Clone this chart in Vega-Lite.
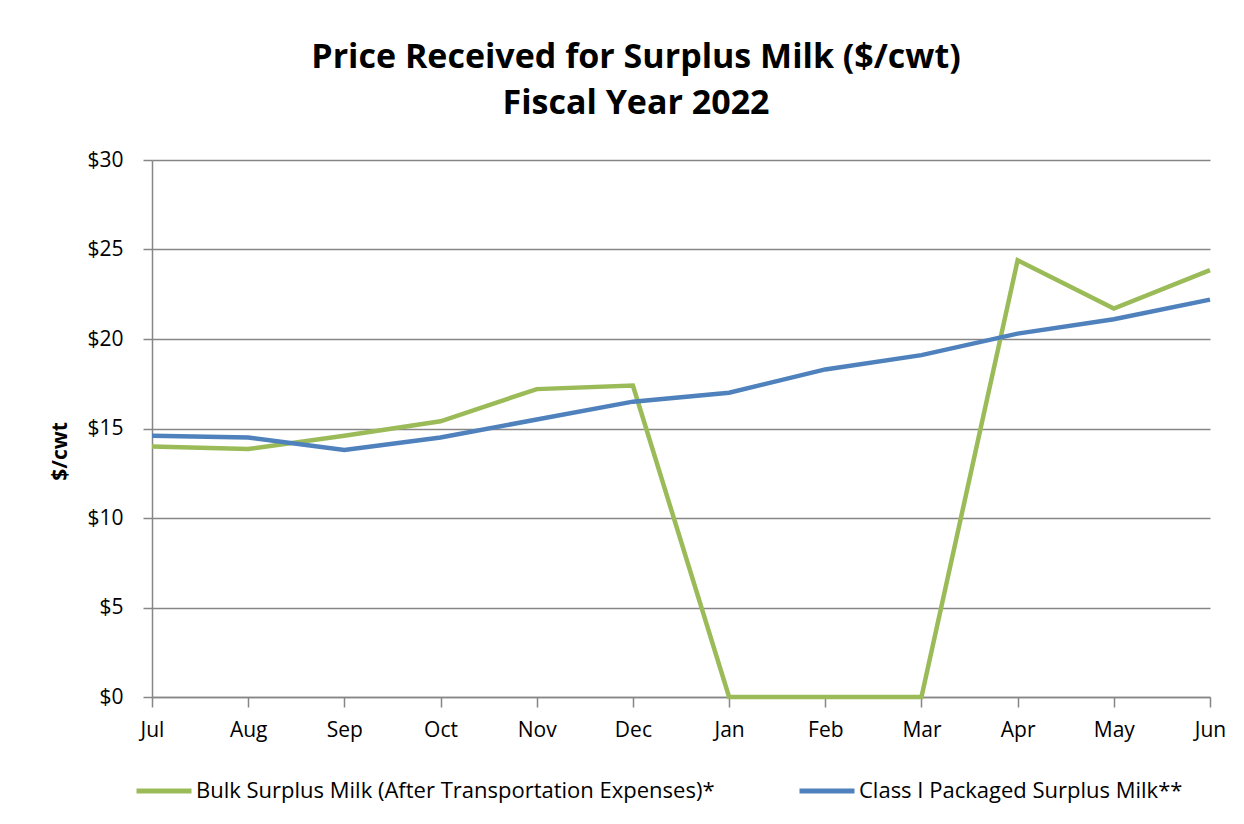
{
  "$schema": "https://vega.github.io/schema/vega-lite/v6.json",
  "autosize": {"type": "none"},
  "width": 1058,
  "height": 537,
  "padding": {"left": 152, "top": 160, "right": 34, "bottom": 127},
  "background": "white",
  "config": {
    "font": "Open Sans",
    "view": {"stroke": null}
  },
  "title": {
    "text": ["Price Received for Surplus Milk ($/cwt)", "Fiscal Year 2022"],
    "font": "Open Sans",
    "fontSize": 34,
    "fontWeight": "bold",
    "color": "#000000",
    "lineHeight": 46,
    "anchor": "middle",
    "frame": "group",
    "dx": -45,
    "offset": 28
  },
  "data": {
    "values": [
      {"month": "Jul", "series": "Bulk Surplus Milk (After Transportation Expenses)*", "price": 14.0},
      {"month": "Aug", "series": "Bulk Surplus Milk (After Transportation Expenses)*", "price": 13.85},
      {"month": "Sep", "series": "Bulk Surplus Milk (After Transportation Expenses)*", "price": 14.6},
      {"month": "Oct", "series": "Bulk Surplus Milk (After Transportation Expenses)*", "price": 15.4},
      {"month": "Nov", "series": "Bulk Surplus Milk (After Transportation Expenses)*", "price": 17.2},
      {"month": "Dec", "series": "Bulk Surplus Milk (After Transportation Expenses)*", "price": 17.4},
      {"month": "Jan", "series": "Bulk Surplus Milk (After Transportation Expenses)*", "price": 0},
      {"month": "Feb", "series": "Bulk Surplus Milk (After Transportation Expenses)*", "price": 0},
      {"month": "Mar", "series": "Bulk Surplus Milk (After Transportation Expenses)*", "price": 0},
      {"month": "Apr", "series": "Bulk Surplus Milk (After Transportation Expenses)*", "price": 24.4},
      {"month": "May", "series": "Bulk Surplus Milk (After Transportation Expenses)*", "price": 21.7},
      {"month": "Jun", "series": "Bulk Surplus Milk (After Transportation Expenses)*", "price": 23.85},
      {"month": "Jul", "series": "Class I Packaged Surplus Milk**", "price": 14.6},
      {"month": "Aug", "series": "Class I Packaged Surplus Milk**", "price": 14.5},
      {"month": "Sep", "series": "Class I Packaged Surplus Milk**", "price": 13.8},
      {"month": "Oct", "series": "Class I Packaged Surplus Milk**", "price": 14.5},
      {"month": "Nov", "series": "Class I Packaged Surplus Milk**", "price": 15.5},
      {"month": "Dec", "series": "Class I Packaged Surplus Milk**", "price": 16.5},
      {"month": "Jan", "series": "Class I Packaged Surplus Milk**", "price": 17.0},
      {"month": "Feb", "series": "Class I Packaged Surplus Milk**", "price": 18.3},
      {"month": "Mar", "series": "Class I Packaged Surplus Milk**", "price": 19.1},
      {"month": "Apr", "series": "Class I Packaged Surplus Milk**", "price": 20.3},
      {"month": "May", "series": "Class I Packaged Surplus Milk**", "price": 21.1},
      {"month": "Jun", "series": "Class I Packaged Surplus Milk**", "price": 22.2}
    ]
  },
  "mark": {"type": "line", "strokeWidth": 4.5, "strokeJoin": "miter", "strokeCap": "butt"},
  "encoding": {
    "x": {
      "field": "month",
      "type": "ordinal",
      "sort": ["Jul", "Aug", "Sep", "Oct", "Nov", "Dec", "Jan", "Feb", "Mar", "Apr", "May", "Jun"],
      "scale": {"type": "point", "padding": 0},
      "axis": {
        "title": null,
        "labelAngle": 0,
        "labelFont": "Open Sans",
        "labelFontSize": 21,
        "labelColor": "#000000",
        "labelPadding": 12,
        "tickSize": 10,
        "tickColor": "#868686",
        "tickWidth": 1.5,
        "domainColor": "#868686",
        "domainWidth": 1.5,
        "grid": false
      }
    },
    "y": {
      "field": "price",
      "type": "quantitative",
      "scale": {"domain": [0, 30], "nice": false, "zero": true},
      "axis": {
        "title": "$/cwt",
        "titleFont": "Open Sans",
        "titleFontSize": 21,
        "titleFontWeight": "bold",
        "titleColor": "#000000",
        "titleAngle": -90,
        "titleX": -92,
        "titleY": 291,
        "titleAlign": "center",
        "titleBaseline": "middle",
        "values": [0, 5, 10, 15, 20, 25, 30],
        "format": "$.0f",
        "labelFont": "Open Sans",
        "labelFontSize": 21,
        "labelColor": "#000000",
        "labelPadding": 20,
        "tickSize": 9,
        "tickColor": "#868686",
        "tickWidth": 1.5,
        "domainColor": "#868686",
        "domainWidth": 1.5,
        "grid": true,
        "gridColor": "#868686",
        "gridWidth": 1.5
      }
    },
    "color": {
      "field": "series",
      "type": "nominal",
      "scale": {
        "domain": ["Bulk Surplus Milk (After Transportation Expenses)*", "Class I Packaged Surplus Milk**"],
        "range": ["#9BBB59", "#4F81BD"]
      },
      "legend": {
        "title": null,
        "orient": "none",
        "direction": "horizontal",
        "legendX": -18,
        "legendY": 601,
        "symbolType": "stroke",
        "symbolSize": 3025,
        "symbolStrokeWidth": 5,
        "labelFont": "Open Sans",
        "labelFontSize": 22,
        "labelColor": "#000000",
        "labelOffset": 2,
        "labelLimit": 700,
        "columnPadding": 74
      }
    }
  }
}
